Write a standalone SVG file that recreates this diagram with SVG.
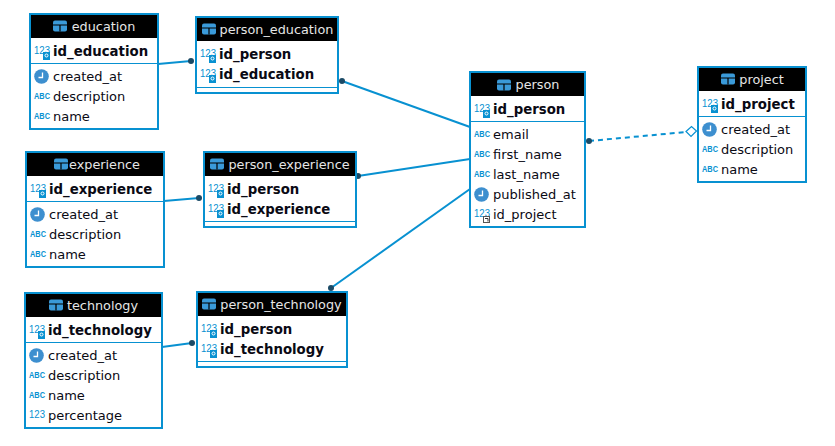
<svg xmlns="http://www.w3.org/2000/svg" xmlns:xlink="http://www.w3.org/1999/xlink" width="835" height="446" viewBox="0 0 835 446">
<style>
text{font-family:"DejaVu Sans",sans-serif;font-size:13px;fill:#0a0a14}
.box{fill:#fff;stroke:#0891d1;stroke-width:2}
.hd{fill:#000}
text.ttl{fill:#e6e6e6;text-anchor:middle;font-size:12.800px}
.pk{font-weight:bold;font-size:13.300px}
.sep{stroke:#0891d1;stroke-width:1;fill:none}
.c{stroke:#0891d1;stroke-width:2;fill:none}
.d{stroke-dasharray:5 4}
.dot{fill:#1b4a66}
text.ic{font-family:"Liberation Sans",sans-serif;font-size:11px;fill:#0891d1}
text.abc{font-family:"Liberation Sans",sans-serif;font-size:8.600px;font-weight:bold;fill:#0891d1}
</style>
<defs>
<g id="tbl"><rect x="-7" y="-5.500" width="14" height="11" rx="2" fill="#3a9ad9"/><path d="M-7 -1H7M0 -1V5.500" stroke="#000" stroke-width="1.200"/></g>
<g id="clk"><circle r="7.300" fill="#3d8fcf"/><path d="M1 -4V1H-3" stroke="#fff" stroke-width="1.300" fill="none"/></g>
<g id="key"><rect x="7" y="2" width="7" height="8" fill="#0891d1"/><circle cx="10.500" cy="5.500" r="1.500" fill="none" stroke="#fff"/></g>
<g id="fk"><rect x="7.500" y="3.500" width="6" height="6" fill="#fff" stroke="#555"/><path d="M9 5.500H12V8.500" stroke="#333" fill="none"/></g>
</defs>
<g id="connectors">
<path class="c" d="M158 64L191 61"/><circle class="dot" cx="191" cy="61" r="3"/>
<path class="c" d="M342 81L470 127"/><circle class="dot" cx="342" cy="81" r="3"/>
<path class="c" d="M164 201L199 198"/><circle class="dot" cx="199" cy="198" r="3"/>
<path class="c" d="M358 176L470 159"/><circle class="dot" cx="358" cy="176" r="3"/>
<path class="c" d="M162 347L192 343"/><circle class="dot" cx="192" cy="343" r="3"/>
<path class="c" d="M331 288L470 189"/><circle class="dot" cx="331" cy="288" r="3"/>
<path class="c d" d="M589 141L686 132"/><circle class="dot" cx="589" cy="141" r="3"/>
<path d="M686 131.500L691.500 126.500L696.500 131L691 136.500Z" fill="#fff" stroke="#0891d1" stroke-width="1.200"/>
</g>
<g id="education">
<rect class="box" x="30" y="14" width="128" height="115"/><rect class="hd" x="31" y="15" width="126" height="23"/>
<use xlink:href="#tbl" x="60" y="26"/><text class="ttl" x="103.500" y="31">education</text>
<text class="ic" x="34" y="54" textLength="16" lengthAdjust="spacingAndGlyphs">123</text><use xlink:href="#key" x="36" y="50"/><text class="pk" x="53" y="56">id_education</text>
<path class="sep" d="M31 63.500H157"/>
<use xlink:href="#clk" x="41.500" y="76.500"/><text x="53" y="81">created_at</text>
<text class="abc" x="34" y="99" textLength="16" lengthAdjust="spacingAndGlyphs">ABC</text><text x="53" y="101">description</text>
<text class="abc" x="34" y="119" textLength="16" lengthAdjust="spacingAndGlyphs">ABC</text><text x="53" y="121">name</text>
</g>
<g id="person_education">
<rect class="box" x="196" y="17" width="142" height="76"/><rect class="hd" x="197" y="18" width="140" height="23"/>
<use xlink:href="#tbl" x="209" y="29"/><text class="ttl" x="276.500" y="34">person_education</text>
<text class="ic" x="200" y="57" textLength="16" lengthAdjust="spacingAndGlyphs">123</text><use xlink:href="#key" x="202" y="53"/><text class="pk" x="219" y="59">id_person</text>
<text class="ic" x="200" y="77" textLength="16" lengthAdjust="spacingAndGlyphs">123</text><use xlink:href="#key" x="202" y="73"/><text class="pk" x="219" y="79">id_education</text>
<path class="sep" d="M197 87.500H337"/>
</g>
<g id="experience">
<rect class="box" x="26" y="152" width="138" height="115"/><rect class="hd" x="27" y="153" width="136" height="23"/>
<use xlink:href="#tbl" x="61" y="164"/><text class="ttl" x="104.500" y="169">experience</text>
<text class="ic" x="30" y="192" textLength="16" lengthAdjust="spacingAndGlyphs">123</text><use xlink:href="#key" x="32" y="188"/><text class="pk" x="49" y="194">id_experience</text>
<path class="sep" d="M27 201.500H163"/>
<use xlink:href="#clk" x="37.500" y="214.500"/><text x="49" y="219">created_at</text>
<text class="abc" x="30" y="237" textLength="16" lengthAdjust="spacingAndGlyphs">ABC</text><text x="49" y="239">description</text>
<text class="abc" x="30" y="257" textLength="16" lengthAdjust="spacingAndGlyphs">ABC</text><text x="49" y="259">name</text>
</g>
<g id="person_experience">
<rect class="box" x="204" y="152" width="152" height="75"/><rect class="hd" x="205" y="153" width="150" height="23"/>
<use xlink:href="#tbl" x="217" y="164"/><text class="ttl" x="289" y="169">person_experience</text>
<text class="ic" x="208" y="192" textLength="16" lengthAdjust="spacingAndGlyphs">123</text><use xlink:href="#key" x="210" y="188"/><text class="pk" x="227" y="194">id_person</text>
<text class="ic" x="208" y="212" textLength="16" lengthAdjust="spacingAndGlyphs">123</text><use xlink:href="#key" x="210" y="208"/><text class="pk" x="227" y="214">id_experience</text>
<path class="sep" d="M205 221.500H355"/>
</g>
<g id="technology">
<rect class="box" x="25" y="293" width="137" height="135"/><rect class="hd" x="26" y="294" width="135" height="23"/>
<use xlink:href="#tbl" x="56" y="305"/><text class="ttl" x="102.500" y="310">technology</text>
<text class="ic" x="29" y="333" textLength="16" lengthAdjust="spacingAndGlyphs">123</text><use xlink:href="#key" x="31" y="329"/><text class="pk" x="48" y="335">id_technology</text>
<path class="sep" d="M26 342.500H161"/>
<use xlink:href="#clk" x="36.500" y="355.500"/><text x="48" y="360">created_at</text>
<text class="abc" x="29" y="378" textLength="16" lengthAdjust="spacingAndGlyphs">ABC</text><text x="48" y="380">description</text>
<text class="abc" x="29" y="398" textLength="16" lengthAdjust="spacingAndGlyphs">ABC</text><text x="48" y="400">name</text>
<text class="ic" x="29" y="418" textLength="16" lengthAdjust="spacingAndGlyphs">123</text><text x="48" y="420">percentage</text>
</g>
<g id="person_technology">
<rect class="box" x="197" y="292" width="150" height="75"/><rect class="hd" x="198" y="293" width="148" height="23"/>
<use xlink:href="#tbl" x="209" y="304"/><text class="ttl" x="281" y="309">person_technology</text>
<text class="ic" x="201" y="332" textLength="16" lengthAdjust="spacingAndGlyphs">123</text><use xlink:href="#key" x="203" y="328"/><text class="pk" x="220" y="334">id_person</text>
<text class="ic" x="201" y="352" textLength="16" lengthAdjust="spacingAndGlyphs">123</text><use xlink:href="#key" x="203" y="348"/><text class="pk" x="220" y="354">id_technology</text>
<path class="sep" d="M198 361.500H346"/>
</g>
<g id="person">
<rect class="box" x="470" y="72" width="115" height="155"/><rect class="hd" x="471" y="73" width="113" height="23"/>
<use xlink:href="#tbl" x="504" y="85"/><text class="ttl" x="537.500" y="89">person</text>
<text class="ic" x="474" y="112" textLength="16" lengthAdjust="spacingAndGlyphs">123</text><use xlink:href="#key" x="476" y="108"/><text class="pk" x="493" y="114">id_person</text>
<path class="sep" d="M471 121.500H584"/>
<text class="abc" x="474" y="137" textLength="16" lengthAdjust="spacingAndGlyphs">ABC</text><text x="493" y="139">email</text>
<text class="abc" x="474" y="157" textLength="16" lengthAdjust="spacingAndGlyphs">ABC</text><text x="493" y="159">first_name</text>
<text class="abc" x="474" y="177" textLength="16" lengthAdjust="spacingAndGlyphs">ABC</text><text x="493" y="179">last_name</text>
<use xlink:href="#clk" x="481.500" y="194.500"/><text x="493" y="199">published_at</text>
<text class="ic" x="474" y="217" textLength="16" lengthAdjust="spacingAndGlyphs">123</text><use xlink:href="#fk" x="476" y="213"/><text x="493" y="219">id_project</text>
</g>
<g id="project">
<rect class="box" x="698" y="67" width="108" height="115"/><rect class="hd" x="699" y="68" width="106" height="23"/>
<use xlink:href="#tbl" x="728" y="79"/><text class="ttl" x="761.500" y="84">project</text>
<text class="ic" x="702" y="107" textLength="16" lengthAdjust="spacingAndGlyphs">123</text><use xlink:href="#key" x="704" y="103"/><text class="pk" x="721" y="109">id_project</text>
<path class="sep" d="M699 116.500H805"/>
<use xlink:href="#clk" x="709.500" y="129.500"/><text x="721" y="134">created_at</text>
<text class="abc" x="702" y="152" textLength="16" lengthAdjust="spacingAndGlyphs">ABC</text><text x="721" y="154">description</text>
<text class="abc" x="702" y="172" textLength="16" lengthAdjust="spacingAndGlyphs">ABC</text><text x="721" y="174">name</text>
</g>
</svg>
